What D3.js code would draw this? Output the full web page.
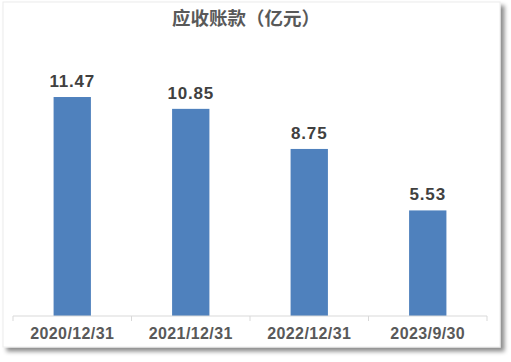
<!DOCTYPE html>
<html>
<head>
<meta charset="utf-8">
<script src="https://cdn.jsdelivr.net/npm/d3@7"></script>
<style>
  body { margin: 0; background: #fff; }
  svg { display: block; }
</style>
</head>
<body>
<svg></svg>
<script>
// chart data
const categories = ["2020/12/31", "2021/12/31", "2022/12/31", "2023/9/30"];
const values = [11.47, 10.85, 8.75, 5.53];
const title = "应收账款（亿元）";

const width = 511, height = 362;
const margin = { top: 87, bottom: 46, left: 13, right: 24 };

const svg = d3.select("svg")
    .attr("width", width)
    .attr("height", height);

// drop shadow for the panel
const defs = svg.append("defs");
const filter = defs.append("filter")
    .attr("id", "shadow")
    .attr("x", "-5%").attr("y", "-5%")
    .attr("width", "115%").attr("height", "115%");
filter.append("feDropShadow")
    .attr("dx", 4).attr("dy", 4)
    .attr("stdDeviation", 2.2)
    .attr("flood-color", "#000")
    .attr("flood-opacity", 0.45);

svg.append("rect")
    .attr("x", 3).attr("y", 2)
    .attr("width", 497).attr("height", 345)
    .attr("fill", "#fff")
    .attr("stroke", "#ececec")
    .attr("stroke-width", 1)
    .attr("filter", "url(#shadow)");

// title
svg.append("text")
    .attr("x", 246)
    .attr("y", 25)
    .attr("text-anchor", "middle")
    .attr("font-family", "'Noto Sans CJK SC', sans-serif")
    .attr("font-size", 18.5)
    .attr("font-weight", "bold")
    .attr("fill", "#595959")
    .text(title);

const baseY = 316;
const x = d3.scaleBand()
    .domain(categories)
    .range([margin.left, width - margin.right])
    .paddingInner(0.685)
    .paddingOuter(0.3425);

const y = d3.scaleLinear()
    .domain([0, 12])
    .range([baseY, baseY - 229.1]);

// bars
svg.append("g")
  .selectAll("rect")
  .data(values)
  .join("rect")
    .attr("x", (d, i) => x(categories[i]))
    .attr("y", d => y(d))
    .attr("width", x.bandwidth())
    .attr("height", d => baseY - y(d))
    .attr("fill", "#4f81bd");

// value labels
svg.append("g")
  .selectAll("text")
  .data(values)
  .join("text")
    .attr("x", (d, i) => x(categories[i]) + x.bandwidth() / 2)
    .attr("y", d => y(d) - 10)
    .attr("text-anchor", "middle")
    .attr("font-family", "'Liberation Sans', Arial, sans-serif")
    .attr("font-size", 17)
    .attr("font-weight", "bold")
    .attr("letter-spacing", 0.8)
    .attr("fill", "#404040")
    .text(d => d.toFixed(2));

// x axis with ticks at the band boundaries
const xAxisScale = d3.scaleLinear()
    .domain([0, categories.length])
    .range([margin.left, width - margin.right]);

const axis = svg.append("g")
    .attr("transform", `translate(0,${baseY})`);

axis.append("line")
    .attr("x1", xAxisScale(0)).attr("x2", xAxisScale(categories.length))
    .attr("stroke", "#d9d9d9");

axis.selectAll(".tick")
  .data(d3.range(categories.length + 1))
  .join("line")
    .attr("class", "tick")
    .attr("x1", d => xAxisScale(d)).attr("x2", d => xAxisScale(d))
    .attr("y1", 0).attr("y2", 5)
    .attr("stroke", "#d9d9d9");

axis.selectAll(".cat")
  .data(categories)
  .join("text")
    .attr("class", "cat")
    .attr("x", d => x(d) + x.bandwidth() / 2)
    .attr("y", 23)
    .attr("text-anchor", "middle")
    .attr("font-family", "'Liberation Sans', Arial, sans-serif")
    .attr("font-size", 16)
    .attr("font-weight", "bold")
    .attr("letter-spacing", 0.4)
    .attr("fill", "#595959")
    .text(d => d);
</script>
</body>
</html>
